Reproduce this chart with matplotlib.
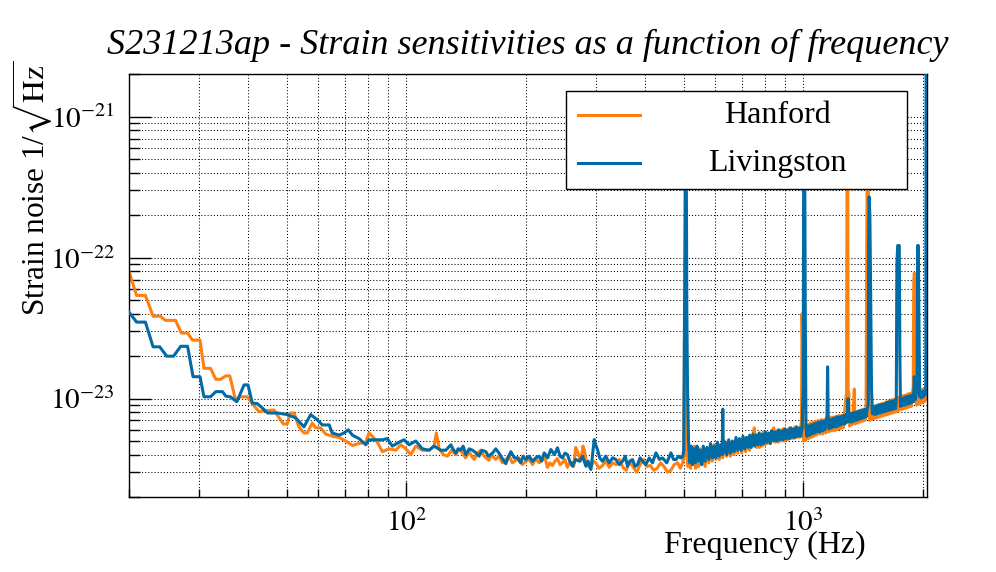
import matplotlib
matplotlib.use("Agg")
import matplotlib.pyplot as plt
import numpy as np
from matplotlib.patches import Rectangle
from matplotlib.lines import Line2D
from matplotlib.ticker import LogLocator, FuncFormatter, NullFormatter

plt.rcParams['font.family'] = ['Liberation Serif', 'DejaVu Serif']
plt.rcParams['mathtext.fontset'] = 'stix'

title = "S231213ap - Strain sensitivities as a function of frequency"
labels = ["Hanford", "Livingston"]
colors = ["#FF800E", "#006BA4"]

# (frequency in Hz, strain noise in units of 1e-24 / sqrt(Hz))
# Hanford, 20 - 500 Hz
h_lo = [(20.0, 80), (20.9, 54), (22.0, 54), (23.0, 38.4), (24.0, 38.4), (24.7, 35.9), (26.2, 35.9),
        (27.1, 29.2), (28.1, 29.2), (28.9, 26), (30.2, 26), (30.9, 16.4), (32.1, 16.4), (33.1, 13.7),
        (34.0, 13.7), (35.1, 14.5), (35.9, 14.5), (37.1, 9.8), (38.2, 10.3), (39.7, 10.3), (40.9, 9.2),
        (42.5, 8.1), (46.4, 8.3), (47.8, 7.3), (49.0, 6.6), (50.1, 6.6), (50.9, 7.9), (52.1, 7.9),
        (53.6, 6.3), (55.2, 5.7), (56.3, 5.7), (57.9, 6.7), (59.1, 6.2), (60.8, 6.2), (62.6, 5.6),
        (65.1, 5.4), (67.7, 5.3), (70.3, 5.0), (73.1, 4.65), (76.0, 4.8), (79.0, 4.9), (80.5, 5.7),
        (82.1, 5.4), (84.5, 4.9), (87.0, 4.2), (90.4, 4.4), (94.0, 4.3), (96.8, 4.7), (99.7, 4.4),
        (102.6, 4.0), (105.6, 4.6), (109.7, 4.3), (114.1, 4.3), (117.4, 4.6), (119.0, 5.7), (120.9, 4.4),
        (124, 4.0), (126.9, 3.9), (130, 4.3), (133.2, 4.0), (136, 4.4), (138.5, 4.1), (141, 3.8),
        (144.0, 4.2), (146, 3.9), (148.2, 3.7), (151, 4.1), (154.0, 4.3), (157, 3.9), (161.5, 3.65),
        (164, 4.0), (167.9, 3.7), (171, 3.9), (174.6, 3.5), (178, 3.7), (181.5, 3.9), (185, 3.5),
        (188.8, 3.65), (192, 3.8), (196.1, 3.4), (200, 3.6), (203.9, 3.7), (208, 3.4), (211.9, 3.75),
        (216, 3.5), (220.2, 3.65), (223, 3.9), (226.7, 3.25), (230, 3.5), (233.3, 3.35), (237, 3.6),
        (240.1, 3.75), (244, 3.4), (247.2, 3.5), (251, 3.7), (254.4, 3.25), (258, 3.5), (261.9, 3.5),
        (264, 3.3), (267.0, 4.5), (270, 4.2), (272.2, 3.9), (275, 3.6), (278.6, 4.6), (281, 4.3),
        (284.1, 3.5), (288, 3.3), (291.4, 3.2), (296, 3.6), (300.1, 3.5), (306, 3.2), (312.0, 3.35),
        (318, 3.6), (324.6, 3.25), (331, 3.5), (337.8, 3.4), (344, 3.7), (351.4, 3.25), (358, 3.1),
        (365.6, 3.6), (372, 3.3), (380.5, 3.0), (388, 3.4), (395.8, 3.7), (403, 3.3), (411.8, 3.35),
        (420, 3.1), (428.5, 3.2), (437, 3.5), (445.8, 3.3), (455, 3.0), (463.8, 3.1), (473, 3.4),
        (482.6, 3.5), (490, 3.2), (497.1, 3.5)]
# Hanford, 500 - 2048 Hz
h_hi = [(500, 3.9), (502, 26), (503, 19), (505, 5.5), (508, 4.1), (512, 3.3), (516, 4.5), (520, 3.2),
        (524, 4.2), (528, 3.4), (532, 4.6), (536, 3.2), (540, 4.0), (545, 3.3), (550, 4.4), (555, 3.4),
        (560, 4.1), (566, 3.3), (572, 4.5), (578, 3.5), (584, 4.3), (590, 3.6), (596, 4.7), (602, 3.7),
        (608, 4.8), (614, 3.7), (620, 4.5), (627, 3.8), (634, 5.0), (641, 3.9), (648, 4.8), (655, 3.9),
        (662, 4.9), (669, 4.0), (676, 5.0), (684, 4.1), (692, 5.1), (700, 4.1), (708, 5.2), (716, 4.2),
        (724, 5.3), (732, 4.3), (740, 5.2), (748, 5.6), (753, 6.2), (758, 4.8), (764, 4.5), (770, 5.6),
        (776, 4.5), (782, 5.5), (788, 4.6), (794, 5.8), (800, 4.7), (806, 5.7), (813, 4.8), (820, 5.6),
        (827, 4.8), (835, 5.8), (843, 6.2), (850, 4.9), (858, 5.9), (866, 4.9), (874, 6.0), (882, 5.0),
        (890, 6.1), (898, 5.0), (906, 6.0), (914, 5.1), (922, 6.2), (930, 5.2), (938, 6.1), (946, 5.2),
        (954, 6.3), (962, 5.3), (970, 6.1), (978, 5.3), (986, 6.3), (990, 7.0), (993, 40), (996, 25),
        (999, 7.0), (1004, 5.0), (1010, 6.4), (1016, 5.1), (1024, 6.5), (1032, 5.2), (1040, 6.7),
        (1048, 5.3), (1056, 6.8), (1064, 5.4), (1072, 6.9), (1080, 5.5), (1090, 7.0), (1100, 5.6),
        (1110, 7.1), (1120, 5.6), (1130, 7.1), (1140, 5.7), (1150, 7.2), (1160, 5.8), (1170, 7.4),
        (1180, 5.9), (1190, 7.4), (1200, 5.9), (1210, 7.5), (1220, 6.0), (1230, 7.6), (1240, 6.1),
        (1250, 7.6), (1260, 6.2), (1270, 7.8), (1280, 10), (1286, 11), (1290, 800), (1294, 800),
        (1298, 8), (1302, 11), (1308, 6.4), (1316, 7.8), (1325, 6.5), (1335, 7.9), (1345, 11.7),
        (1350, 6.6), (1360, 8.0), (1370, 6.7), (1380, 8.2), (1390, 6.8), (1400, 8.3), (1410, 6.9),
        (1420, 8.4), (1430, 7.0), (1440, 8.5), (1446, 150), (1452, 800), (1458, 800), (1464, 9),
        (1470, 7.0), (1480, 8.7), (1490, 7.1), (1500, 8.8), (1512, 7.2), (1524, 8.9), (1536, 7.3),
        (1548, 9.1), (1560, 7.4), (1572, 9.2), (1584, 7.5), (1596, 9.3), (1608, 7.6), (1620, 9.5),
        (1632, 7.7), (1644, 9.6), (1656, 7.8), (1668, 9.8), (1680, 7.9), (1692, 9.9), (1704, 8.0),
        (1716, 10.0), (1728, 8.1), (1740, 10.2), (1752, 8.3), (1764, 10.3), (1776, 8.4), (1788, 10.5),
        (1800, 8.5), (1812, 10.6), (1824, 8.6), (1836, 10.8), (1848, 8.7), (1860, 10.9), (1872, 8.8),
        (1884, 11.0), (1893, 12), (1899, 67), (1905, 78), (1912, 70), (1920, 11), (1930, 9.0),
        (1942, 11.3), (1954, 9.1), (1966, 11.4), (1978, 9.3), (1990, 11.6), (2002, 9.4), (2014, 11.8),
        (2026, 9.6), (2036, 12.0), (2048, 11.5)]

# Livingston, 20 - 500 Hz
l_lo = [(20.0, 41.1), (20.9, 34.9), (22.0, 34.9), (23.0, 23.3), (23.9, 23.3), (24.9, 20.0), (25.9, 20.0),
        (27.0, 23.5), (28.1, 23.5), (29.0, 14.3), (30.2, 14.3), (30.9, 10.3), (32.1, 10.3), (33.1, 11.2),
        (34.4, 11.2), (35.1, 10.4), (36.0, 10.3), (37.4, 9.5), (39.0, 12.5), (39.9, 12.5), (40.9, 9.3),
        (42.1, 9.2), (43.4, 8.55), (44.7, 7.9), (47.3, 7.9), (50.1, 7.7), (52.6, 7.3), (55.2, 6.3),
        (57.4, 7.7), (59.5, 7.1), (61.4, 6.5), (63.9, 6.5), (65.0, 5.7), (67.7, 5.5), (69.6, 5.7),
        (71.4, 6.0), (73.1, 5.5), (76.0, 5.2), (79.0, 4.7), (80.5, 5.1), (83.7, 5.1), (87.0, 5.1),
        (89.5, 5.2), (92.2, 4.6), (95.8, 4.9), (98.7, 5.1), (101.6, 4.7), (105.6, 5.0), (109.7, 4.4),
        (114.1, 4.3), (117.4, 4.6), (122.1, 4.3), (125.7, 4.3), (129.4, 4.7), (131, 4.4), (133.2, 4.1),
        (135, 4.4), (137.1, 4.3), (139, 4.6), (141.2, 4.0), (144, 4.4), (146.8, 4.3), (150, 4.1),
        (152.5, 3.9), (155, 4.3), (158.6, 4.2), (161, 3.9), (164.8, 4.1), (168, 4.4), (171.2, 4.1),
        (174, 3.8), (178.1, 3.45), (181, 3.9), (183.4, 4.2), (187, 3.8), (190.5, 3.8), (194, 3.5),
        (197, 3.9), (200, 3.69), (204, 3.9), (207.8, 3.59), (212, 3.8), (216.1, 3.9), (219, 3.6),
        (222.5, 4.12), (227, 3.8), (231.2, 4.35), (236, 4.0), (240.3, 4.47), (244, 3.9), (247.4, 3.79),
        (251, 4.1), (254.7, 4.0), (258, 3.6), (262.2, 3.31), (267, 3.7), (272.6, 3.59), (278, 3.9),
        (283.4, 3.31), (287, 3.6), (291.7, 3.14), (294, 3.8), (297.4, 5.12), (300, 4.7), (303.1, 4.35),
        (307, 3.8), (312.0, 3.59), (318, 3.9), (324.4, 3.5), (331, 3.8), (337.3, 3.69), (344, 3.4),
        (350.5, 3.59), (356, 3.9), (360.8, 3.31), (366, 3.6), (371.4, 3.69), (377, 3.3), (382.4, 3.4),
        (388, 3.8), (393.6, 3.59), (401, 3.4), (409.3, 3.79), (417, 3.5), (425.5, 4.12), (434, 3.7),
        (442.2, 3.79), (453, 3.5), (464.2, 4.12), (471, 3.7), (477.9, 3.69), (485, 3.9), (492.0, 3.79),
        (497, 3.9)]
# Livingston, 500 - 2048 Hz
l_hi = [(500, 4.3), (502, 30), (503.5, 150), (505, 800), (507, 800), (509, 40), (511, 12), (514, 5.0),
        (518, 3.5), (522, 4.6), (526, 3.4), (530, 4.4), (535, 3.5), (540, 4.6), (545, 3.6), (550, 4.3),
        (555, 3.4), (560, 4.6), (566, 3.6), (572, 4.5), (578, 3.7), (584, 4.8), (590, 3.8), (596, 4.6),
        (602, 3.8), (608, 4.9), (614, 3.9), (620, 4.7), (625, 4.0), (627, 8.4), (629, 4.1), (635, 4.9),
        (642, 4.0), (649, 5.1), (656, 4.1), (663, 5.0), (670, 4.2), (677, 5.3), (684, 4.3), (691, 5.2),
        (698, 4.3), (705, 5.4), (712, 4.4), (719, 5.3), (726, 4.5), (733, 5.5), (740, 4.5), (747, 5.6),
        (754, 4.6), (761, 5.5), (768, 4.7), (775, 5.7), (782, 4.7), (789, 5.6), (796, 4.8), (803, 5.8),
        (810, 4.9), (818, 5.7), (826, 4.8), (834, 5.9), (842, 5.0), (850, 5.8), (858, 5.0), (866, 6.0),
        (874, 5.1), (882, 5.9), (890, 5.1), (898, 6.1), (906, 5.2), (914, 6.0), (922, 5.2), (930, 6.2),
        (938, 5.3), (946, 6.1), (954, 5.3), (962, 6.3), (970, 5.4), (978, 6.2), (986, 5.4), (994, 6.3),
        (1000, 12), (1002, 230), (1004, 800), (1008, 800), (1012, 40), (1016, 6.3), (1022, 5.4),
        (1030, 6.4), (1038, 5.5), (1046, 6.5), (1054, 5.6), (1062, 6.6), (1070, 5.7), (1078, 6.7),
        (1086, 5.8), (1094, 6.8), (1102, 5.8), (1110, 6.9), (1118, 5.9), (1126, 6.9), (1134, 6.0),
        (1142, 7.0), (1148, 7.5), (1152, 16.8), (1156, 7.0), (1162, 6.1), (1170, 7.1), (1178, 6.2),
        (1186, 7.2), (1194, 6.3), (1202, 7.3), (1210, 6.3), (1218, 7.4), (1226, 6.4), (1234, 7.4),
        (1242, 6.5), (1250, 7.5), (1258, 6.6), (1266, 7.6), (1274, 6.6), (1282, 7.7), (1290, 6.8),
        (1297, 10.0), (1304, 6.9), (1312, 7.8), (1320, 6.8), (1330, 7.9), (1340, 6.9), (1350, 8.0),
        (1360, 7.0), (1370, 8.1), (1380, 7.1), (1390, 8.2), (1400, 7.2), (1410, 8.3), (1420, 7.3),
        (1430, 8.4), (1440, 7.4), (1450, 8.5), (1458, 9.0), (1462, 140), (1466, 270), (1472, 200),
        (1478, 67), (1486, 12), (1494, 7.8), (1504, 8.8), (1516, 7.7), (1528, 8.9), (1540, 7.8),
        (1552, 9.0), (1564, 7.9), (1576, 9.1), (1588, 8.0), (1600, 9.2), (1612, 8.1), (1624, 9.4),
        (1636, 8.2), (1648, 9.5), (1660, 8.3), (1672, 9.6), (1684, 8.4), (1696, 9.7), (1708, 8.5),
        (1716, 9.8), (1722, 90), (1730, 122), (1746, 122), (1752, 20), (1758, 8.8), (1764, 9.9),
        (1776, 8.9), (1788, 10.1), (1800, 9.0), (1812, 10.3), (1824, 9.1), (1836, 10.4), (1848, 9.2),
        (1860, 10.5), (1872, 9.3), (1884, 10.6), (1896, 9.5), (1905, 14.3), (1915, 9.8), (1925, 10.8),
        (1935, 11), (1942, 122), (1950, 122), (1958, 30), (1966, 10.3), (1972, 11.0), (1984, 10.1),
        (1996, 11.2), (2008, 10.3), (2020, 11.4), (2030, 10.6), (2036, 12), (2040, 3000), (2046, 3000)]

fig = plt.figure(figsize=(9.96, 5.72), dpi=100)
ax = fig.add_axes([0.1295, 0.131, 0.801, 0.739])

for seg, c, z in [(h_lo + h_hi, colors[0], 2), (l_lo + l_hi, colors[1], 3)]:
    f, a = np.array(seg).T
    ax.plot(f, a * 1e-24, color=c, lw=2.2, zorder=z)

ax.set_xscale('log')
ax.set_yscale('log')
ax.set_xlim(20, 2048)
ax.set_ylim(2e-24, 2e-21)

ax.xaxis.set_major_locator(LogLocator(base=10))
ax.xaxis.set_minor_locator(LogLocator(base=10, subs=np.arange(2, 10)))
ax.yaxis.set_major_locator(LogLocator(base=10))
ax.yaxis.set_minor_locator(LogLocator(base=10, subs=np.arange(2, 10)))
fmt = FuncFormatter(lambda v, p: r'$10^{%d}$' % round(np.log10(v)))
ax.xaxis.set_major_formatter(fmt)
ax.yaxis.set_major_formatter(fmt)
ax.xaxis.set_minor_formatter(NullFormatter())
ax.yaxis.set_minor_formatter(NullFormatter())

ax.tick_params(axis='x', which='major', direction='in', length=11, width=1, labelsize=21, pad=9)
ax.tick_params(axis='x', which='minor', direction='in', length=5.5, width=1)
ax.tick_params(axis='y', which='major', direction='in', length=16, width=1, labelsize=21, pad=10)
ax.tick_params(axis='y', which='minor', direction='in', length=8, width=1)

ax.grid(True, which='both', color='black', linestyle=(0, (1, 2)), linewidth=0.75)
for s in ax.spines.values():
    s.set_linewidth(1.0)

ax.set_title(title, fontsize=26, fontstyle='italic', pad=15)
ax.set_xlabel('Frequency (Hz)', fontsize=23, loc='right')
ax.xaxis.set_label_coords(0.9236, -0.08)
ax.set_ylabel(r'Strain noise 1/$\sqrt{\mathrm{Hz}}$', fontsize=22.5, loc='top')
ax.yaxis.set_label_coords(-0.094, 1.033)

# legend box drawn in axes coordinates
ax.add_patch(Rectangle((0.5476, 0.7287), 0.4273, 0.2324, transform=ax.transAxes,
                       facecolor='white', edgecolor='black', lw=1.0, zorder=5))
for yy, c, lab in zip([0.9037, 0.790], colors, labels):
    ax.add_line(Line2D([0.5627, 0.640], [yy, yy], transform=ax.transAxes, color=c, lw=2.2, zorder=6))
    ax.text(0.813, yy, lab, transform=ax.transAxes, fontsize=23, ha='center', va='center', zorder=6)

fig.savefig('out.png', dpi=100)
